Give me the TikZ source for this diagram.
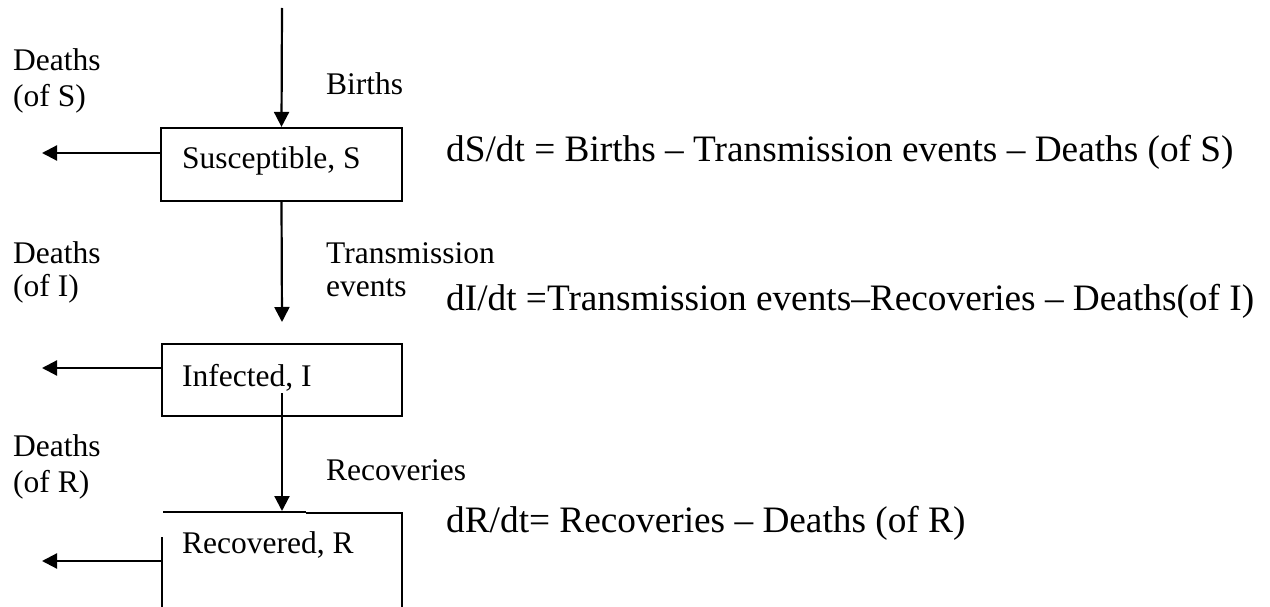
\documentclass[tikz,border=0pt]{standalone}
\usepackage{fontspec}
\setmainfont{Liberation Serif}
\usetikzlibrary{arrows.meta}
\tikzset{
  lbl/.style={anchor=base west, inner sep=0pt, font=\fontsize{31.5}{36}\selectfont},
  eqn/.style={anchor=base west, inner sep=0pt, font=\fontsize{37.3}{42}\selectfont},
  comp/.style={draw, line width=2.2pt, inner sep=0pt},
  flow/.style={line width=2.2pt, -{Triangle[length=15pt,width=15pt]}},
  edge/.style={line width=2.2pt}
}
\begin{document}
\begin{tikzpicture}[x=1pt,y=-1pt]
\useasboundingbox (0,0) rectangle (1270,607);
% compartments
\node[comp, minimum width=241pt, minimum height=73pt] (S) at (281.5,164.5) {};
\node[comp, minimum width=240pt, minimum height=72pt] (I) at (282,380) {};
\coordinate (R) at (282,511);
\draw[edge] (163,512) -- (306,512);
\draw[edge] (306,513) -- (402,513) -- (402,608);
\draw[edge] (162,537) -- (162,608);
% compartment names
\node[lbl] (Sname) at (182,168) {Susceptible, S};
\node[lbl] (Iname) at (182,386) {Infected, I};
\node[lbl] (Rname) at (182,553) {Recovered, R};
% flows
\coordinate (btop) at (282,8);
\coordinate (tI) at (282,322);
\coordinate (rstart) at (282,393);
\coordinate (dSend) at (42,153);
\coordinate (dIend) at (42,368);
\coordinate (dRend) at (42,561);
\draw[flow] (btop) -- (S.north);
\draw[flow] (S.south) -- (tI);
\draw[flow] (rstart) -- (R);
\draw[flow] (S.west |- dSend) -- (dSend);
\draw[flow] (I.west |- dIend) -- (dIend);
\draw[flow] (162,561) -- (dRend);
% flow labels
\node[lbl] (births) at (326,95) {Births};
\node[lbl] (trans1) at (326,263) {Transmission};
\node[lbl] (trans2) at (326,296) {events};
\node[lbl] (recov) at (326,480) {Recoveries};
\node[lbl] (dS1) at (13,71) {Deaths};
\node[lbl] (dS2) at (13,107) {(of S)};
\node[lbl] (dI1) at (13,263) {Deaths};
\node[lbl] (dI2) at (13,296) {(of I)};
\node[lbl] (dR1) at (13,456) {Deaths};
\node[lbl] (dR2) at (13,492) {(of R)};
% equations
\node[eqn] (eqS) at (446,162) {dS/dt = Births -- Transmission events -- Deaths (of S)};
\node[eqn] (eqI) at (446,310) {dI/dt =Transmission events--Recoveries -- Deaths(of I)};
\node[eqn] (eqR) at (446,532) {dR/dt= Recoveries -- Deaths (of R)};
\end{tikzpicture}
\end{document}
